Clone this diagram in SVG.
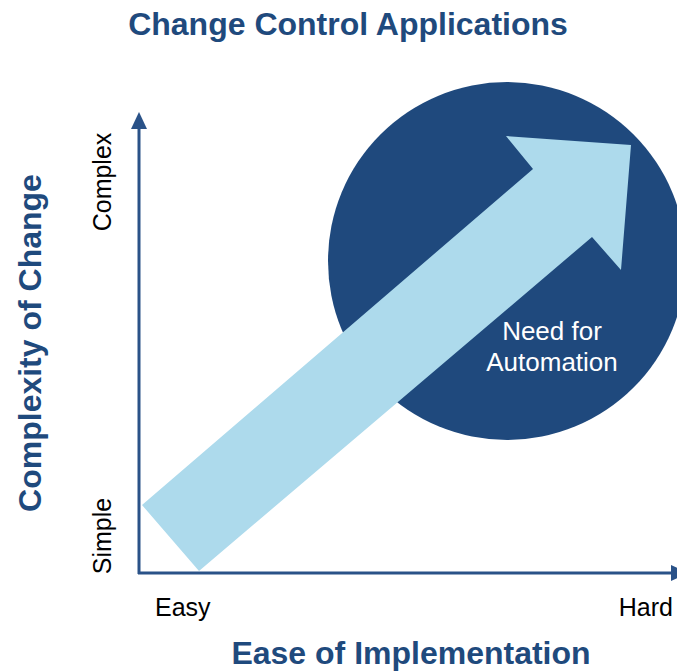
<svg xmlns="http://www.w3.org/2000/svg" width="677" height="671" viewBox="0 0 677 671">
  <style>
    .heading { font-family: "Liberation Sans", Arial, sans-serif; font-weight: bold; font-size: 32px; fill: #1F4A7D; }
    .tick { font-family: "Liberation Sans", Arial, sans-serif; font-size: 25px; fill: #000000; }
    .inner { font-family: "Liberation Sans", Arial, sans-serif; font-size: 26px; fill: #FFFFFF; text-anchor: middle; }
    .axis { stroke: #2A5288; stroke-width: 3; fill: none; }
    .axis-head { fill: #2A5288; }
  </style>
  <rect width="677" height="671" fill="#FFFFFF"/>

  <!-- title -->
  <text class="heading" x="348" y="35" text-anchor="middle">Change Control Applications</text>

  <!-- dark circle: need for automation -->
  <g id="automation">
    <circle cx="507" cy="261" r="179" fill="#1F497D"/>
  </g>

  <!-- broad light-blue arrow rising from easy/simple to hard/complex -->
  <g id="trend-arrow">
    <polygon fill="#ADDAEC" points="142,505 533,169 506,136 631,145 621,270 592,237 199,571"/>
  </g>

  <g id="automation-label">
    <text class="inner" x="552" y="340">Need for</text>
    <text class="inner" x="552" y="371">Automation</text>
  </g>

  <!-- axes -->
  <g id="connectors">
    <line class="axis" x1="139" y1="574" x2="139" y2="126"/>
    <polygon class="axis-head" points="139,112 131,129 147,129"/>
    <line class="axis" x1="138" y1="573" x2="673" y2="573"/>
    <polygon class="axis-head" points="671,565 688,573 671,581"/>
  </g>

  <!-- axis labels -->
  <g id="x-axis-labels">
    <text class="tick" x="155" y="616">Easy</text>
    <text class="tick" x="673" y="616" text-anchor="end">Hard</text>
    <text class="heading" x="411" y="664" text-anchor="middle">Ease of Implementation</text>
  </g>
  <g id="y-axis-labels">
    <text class="tick" transform="translate(111,182) rotate(-90)" text-anchor="middle">Complex</text>
    <text class="tick" transform="translate(111,536) rotate(-90)" text-anchor="middle">Simple</text>
    <text class="heading" transform="translate(41,343) rotate(-90)" text-anchor="middle">Complexity of Change</text>
  </g>
</svg>
